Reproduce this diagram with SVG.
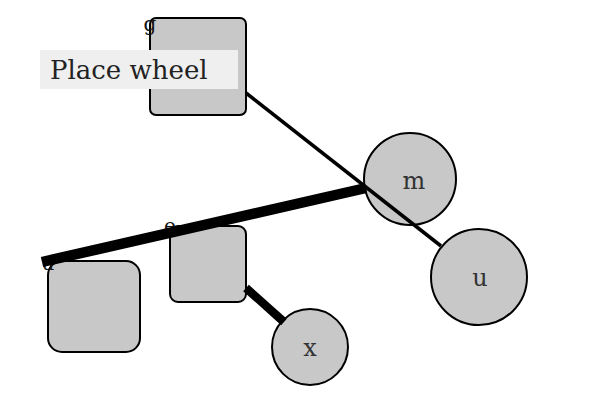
<svg xmlns="http://www.w3.org/2000/svg" width="600" height="400" viewBox="0 0 600 400">
<style>
.node{fill:#c8c8c8;stroke:#000;stroke-width:2}
.lbl{font-family:"DejaVu Serif","Liberation Serif",serif;font-size:24px;fill:#333;text-anchor:middle}
.corner{font-family:"DejaVu Serif","Liberation Serif",serif;font-size:20px;fill:#111;text-anchor:middle}
.edge{stroke:#000;fill:none;stroke-linecap:butt}
</style>
<rect width="600" height="400" fill="#fff"/>
<g id="node-g">
<rect class="node" x="150" y="18" width="96" height="97" rx="6"/>
<text class="corner" x="150" y="31">g</text>
</g>
<g id="node-e">
<rect class="node" x="170" y="226" width="76" height="76" rx="8"/>
<text class="corner" x="170" y="233">e</text>
</g>
<g id="node-u-box">
<rect class="node" x="48" y="261" width="92" height="91" rx="14"/>
<text class="corner" x="48" y="270">u</text>
</g>
<g id="node-m">
<circle class="node" cx="410" cy="179" r="46"/>
<text class="lbl" x="414" y="189">m</text>
</g>
<g id="node-u">
<circle class="node" cx="479" cy="277" r="48"/>
<text class="lbl" x="480" y="286">u</text>
</g>
<g id="node-x">
<circle class="node" cx="310" cy="347" r="38"/>
<text class="lbl" x="310" y="356">x</text>
</g>
<g id="connectors">
<line class="edge" x1="246" y1="93" x2="441" y2="246" stroke-width="3.5"/>
<line class="edge" x1="42" y1="262" x2="366" y2="188" stroke-width="10.5"/>
<line class="edge" x1="246" y1="288" x2="284" y2="322" stroke-width="8.5"/>
</g>
<g id="label-place-wheel">
<rect x="40" y="50" width="198" height="39" fill="#efefef"/>
<text x="50" y="79" font-family="DejaVu Serif, Liberation Serif, serif" font-size="26" fill="#222">Place wheel</text>
</g>
</svg>
